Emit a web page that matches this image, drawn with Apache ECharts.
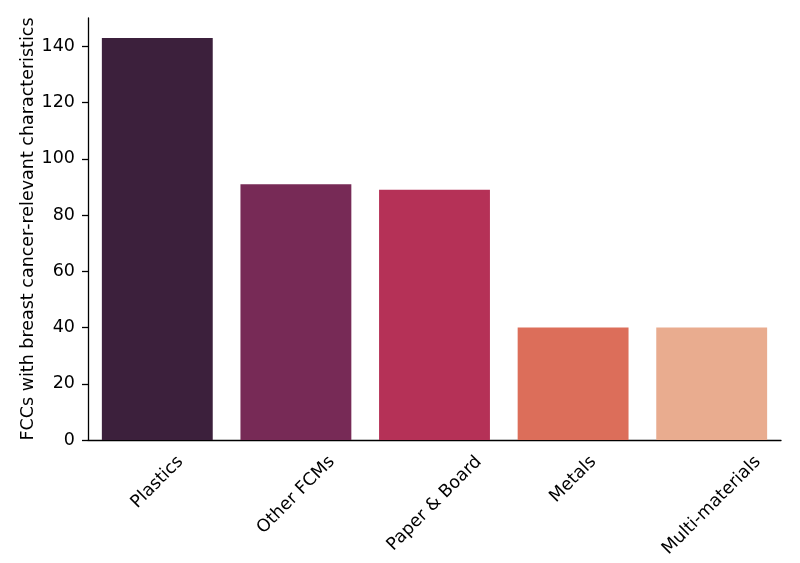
<!DOCTYPE html>
<html>
<head>
<meta charset="utf-8">
<script src="https://cdn.jsdelivr.net/npm/echarts@6/dist/echarts.min.js"></script>
<style>
  html, body { margin: 0; padding: 0; background: #fff; }
  #main { width: 800px; height: 563px; }
</style>
</head>
<body>
<div id="main"></div>
<script>
const categories = ['Plastics', 'Other FCMs', 'Paper & Board', 'Metals', 'Multi-materials'];
const counts = [143, 91, 89, 40, 40];
const barColors = ['#3c203c', '#772a56', '#b53157', '#dc6e5a', '#e9ac8f'];
const yTicks = [0, 20, 40, 60, 80, 100, 120, 140];
const yName = 'FCCs with breast cancer-relevant characteristics';

const font = '17.5px "DejaVu Sans"';
const ctx = document.createElement('canvas').getContext('2d');
ctx.font = font;

// matplotlib style rotated labels: bbox centred under the tick
function renderLabel(params, api) {
  const p = api.coord([api.value(0), 0]);
  const text = categories[params.dataIndex];
  const w = ctx.measureText(text).width;
  const h = 20;
  const cy = p[1] + 12 + (w + h) * 0.7071 / 2;
  return {
    type: 'text',
    x: p[0],
    y: cy,
    rotation: Math.PI / 4,
    style: {
      text: text,
      font: font,
      fill: '#000',
      align: 'center',
      verticalAlign: 'middle'
    }
  };
}

let option = {
  animation: false,
  grid: { left: 88, right: 19, top: 18, bottom: 123 },
  xAxis: {
    type: 'category',
    data: categories,
    axisLine: { lineStyle: { color: '#000', width: 1.3 } },
    axisTick: { alignWithLabel: true, length: 6, lineStyle: { color: '#000', width: 1.3 } },
    axisLabel: { show: false }
  },
  yAxis: {
    type: 'value',
    min: 0,
    max: 150.15,
    name: yName,
    nameLocation: 'middle',
    nameGap: 51,
    nameMoveOverlap: false,
    nameTextStyle: { fontFamily: 'DejaVu Sans', fontSize: 17.5, color: '#000' },
    splitLine: { show: false },
    axisLine: { show: true, lineStyle: { color: '#000', width: 1.3 } },
    axisTick: { show: true, length: 6, customValues: yTicks, lineStyle: { color: '#000', width: 1.3 } },
    axisLabel: { customValues: yTicks, margin: 13, fontFamily: 'DejaVu Sans', fontSize: 17.5, color: '#000' }
  },
  series: [
    {
      type: 'bar',
      data: counts.map((v, i) => ({ value: v, itemStyle: { color: barColors[i] } })),
      barCategoryGap: '20%'
    },
    {
      type: 'custom',
      data: categories.map((c, i) => [i, 0]),
      renderItem: renderLabel,
      clip: false,
      silent: true
    }
  ]
};

let myChart = echarts.init(document.getElementById('main'), null, { renderer: 'canvas' });
myChart.setOption(option);
</script>
</body>
</html>
